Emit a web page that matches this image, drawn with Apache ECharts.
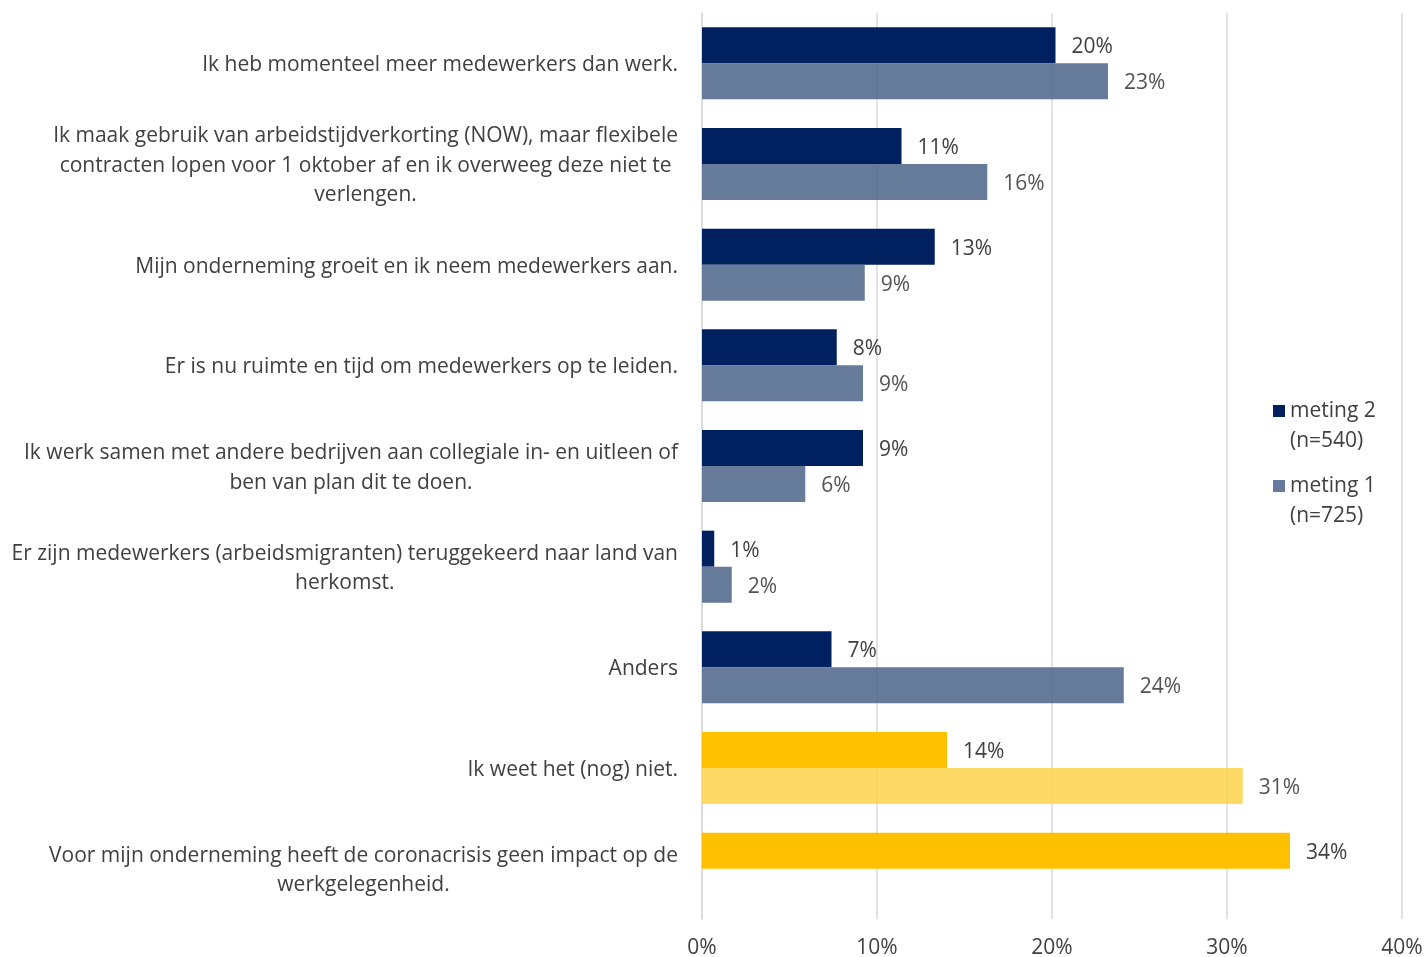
<!DOCTYPE html>
<html>
<head>
<meta charset="utf-8">
<script src="https://cdn.jsdelivr.net/npm/echarts@6/dist/echarts.min.js"></script>
<style>
    html, body {
        margin: 0;
        padding: 0;
        background: #ffffff;
    }

    #main {
        width: 1424px;
        height: 957px;
    }
</style>
</head>
<body>
<div id="main"></div>
<script>
const categories = [
    'Ik heb momenteel meer medewerkers dan werk.',
    'Ik maak gebruik van arbeidstijdverkorting (NOW), maar flexibele\ncontracten lopen voor 1 oktober af en ik overweeg deze niet te\nverlengen.',
    'Mijn onderneming groeit en ik neem medewerkers aan.',
    'Er is nu ruimte en tijd om medewerkers op te leiden.',
    'Ik werk samen met andere bedrijven aan collegiale in- en uitleen of\nben van plan dit te doen.',
    'Er zijn medewerkers (arbeidsmigranten) teruggekeerd naar land van\nherkomst.',
    'Anders',
    'Ik weet het (nog) niet.',
    'Voor mijn onderneming heeft de coronacrisis geen impact op de\nwerkgelegenheid.'
];
const meting2 = [20.2, 11.4, 13.3, 7.7, 9.2, 0.7, 7.4, 14.0, 33.6];
const meting1 = [23.2, 16.3, 9.3, 9.2, 5.9, 1.7, 24.1, 30.9, null];
const xTicks = [0, 10, 20, 30, 40];
const seriesNames = ['meting 2\n(n=540)', 'meting 1\n(n=725)'];

// kleuren: de laatste twee categorieen zijn geel
const dark = '#002060';
const light = '#556c8f';
const yellow = '#ffc000';
const lightYellow = '#fdd555';

var myChart = echarts.init(document.getElementById('main'));

const fontFamily = '"Open Sans", Lato, sans-serif';
const fontSize = 21;
const textColor = '#404040';

const labelOption = {
    show: true,
    position: 'right',
    distance: 16,
    offset: [0, 2],
    fontSize: fontSize,
    fontFamily: fontFamily,
    color: textColor,
    formatter: function (p) {
        return Math.round(p.value) + '%';
    }
};

var option = {
    animation: false,
    grid: {
        left: 702,
        right: 22,
        top: 13,
        bottom: 38,
        containLabel: false,
        outerBoundsMode: 'none'
    },
    legend: {
        orient: 'vertical',
        left: 1268,
        top: 391,
        itemWidth: 12,
        itemHeight: 42,
        itemGap: 15,
        icon: 'path://M0,0H12V12H0Z M0,42H12',
        textStyle: {
            fontSize: fontSize,
            fontFamily: fontFamily,
            color: textColor,
            lineHeight: 30
        },
        data: seriesNames
    },
    xAxis: {
        type: 'value',
        min: xTicks[0],
        max: xTicks[xTicks.length - 1],
        interval: 10,
        axisLine: { show: false },
        axisTick: { show: false },
        splitLine: {
            lineStyle: { color: '#d9d9d9', width: 1.5 }
        },
        axisLabel: {
            margin: 19,
            fontSize: fontSize,
            fontFamily: fontFamily,
            color: textColor,
            formatter: '{value}%'
        }
    },
    yAxis: {
        type: 'category',
        inverse: true,
        data: categories,
        axisTick: { show: false },
        axisLine: {
            lineStyle: { color: '#d9d9d9', width: 1.5 }
        },
        axisLabel: {
            margin: 24,
            align: 'right',
            formatter: function (value) {
                return value.split('\n').map(l => '{c|' + l + '}').join('\n');
            },
            rich: {
                c: {
                    align: 'center',
                    fontSize: fontSize,
                    lineHeight: 29.5,
                    padding: [4, 0, 0, 0],
                    fontFamily: fontFamily,
                    color: textColor
                }
            }
        }
    },
    series: [
        {
            name: seriesNames[0],
            type: 'bar',
            barWidth: 36,
            barGap: '0%',
            itemStyle: { color: dark },
            label: labelOption,
            data: meting2.map((v, i) => ({
                value: v,
                itemStyle: { color: i >= 7 ? yellow : dark }
            }))
        },
        {
            name: seriesNames[1],
            type: 'bar',
            barWidth: 36,
            barGap: '0%',
            itemStyle: { color: light, opacity: 0.9 },
            label: labelOption,
            data: meting1.map((v, i) => ({
                value: v,
                itemStyle: { color: i >= 7 ? lightYellow : light, opacity: 0.9 }
            }))
        }
    ]
};

option && myChart.setOption(option);
</script>
</body>
</html>
